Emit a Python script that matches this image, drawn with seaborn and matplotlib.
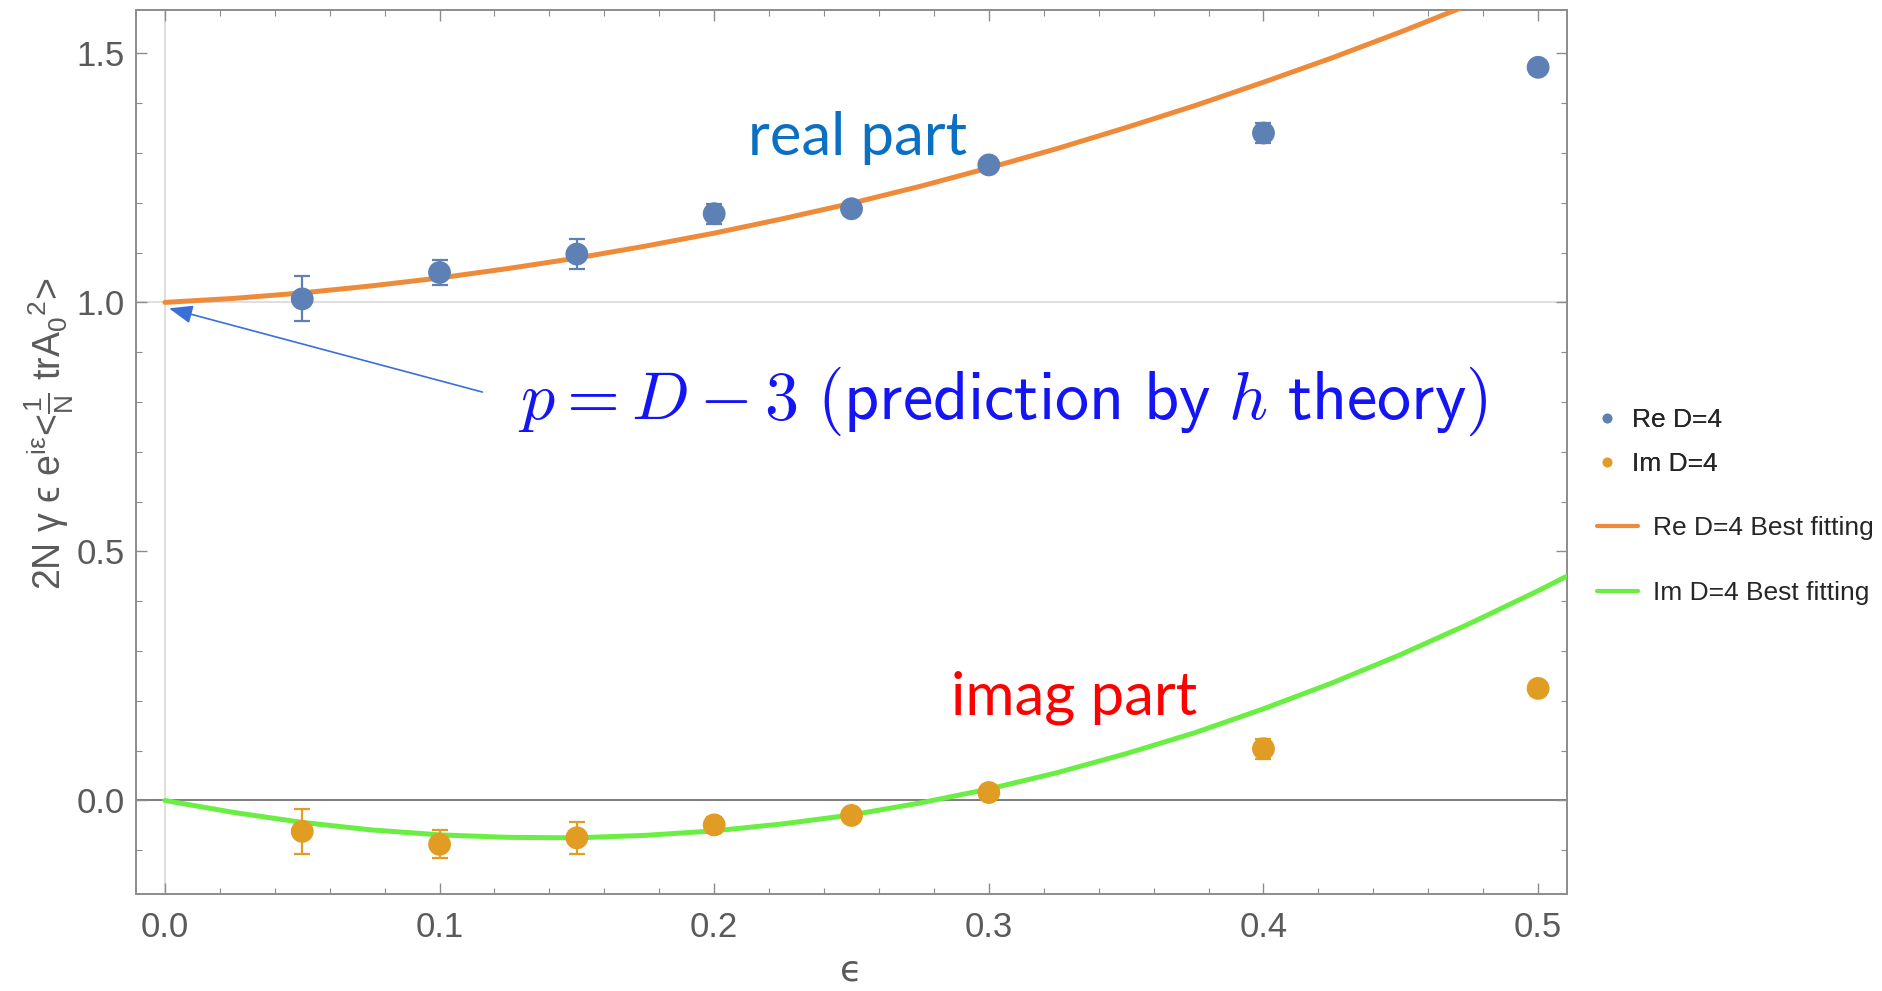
import numpy as np
import pandas as pd
import matplotlib
matplotlib.use("Agg")
import matplotlib.pyplot as plt
from matplotlib.ticker import MultipleLocator
from matplotlib.lines import Line2D
import seaborn as sns

# ---- data ----
eps = [0.05, 0.10, 0.15, 0.20, 0.25, 0.30, 0.40, 0.50]
re_vals = [1.007, 1.060, 1.097, 1.178, 1.188, 1.276, 1.340, 1.472]
re_err = [0.045, 0.025, 0.030, 0.020, 0.012, 0.010, 0.020, 0.012]
im_vals = [-0.062, -0.088, -0.075, -0.049, -0.030, 0.016, 0.104, 0.225]
im_err = [0.045, 0.028, 0.032, 0.016, 0.010, 0.010, 0.020, 0.015]

fit_eps = [0.000, 0.025, 0.050, 0.075, 0.100, 0.125, 0.150, 0.175, 0.200, 0.225,
           0.250, 0.275, 0.300, 0.325, 0.350, 0.375, 0.400, 0.425, 0.450, 0.475,
           0.500, 0.510]
re_fit = [1.000, 1.008, 1.019, 1.033, 1.049, 1.068, 1.089, 1.113, 1.139, 1.168,
          1.199, 1.233, 1.270, 1.309, 1.351, 1.395, 1.442, 1.491, 1.543, 1.598,
          1.655, 1.678]
im_fit = [0.000, -0.024, -0.044, -0.059, -0.069, -0.074, -0.075, -0.070, -0.061, -0.047,
          -0.029, -0.005, 0.023, 0.056, 0.094, 0.136, 0.184, 0.236, 0.293, 0.355,
          0.421, 0.449]

x_ticks = [0.0, 0.1, 0.2, 0.3, 0.4, 0.5]
y_ticks = [0.0, 0.5, 1.0, 1.5]

C_RE = "#5E81B5"
C_IM = "#E19C24"
C_REFIT = "#EE8B3A"
C_IMFIT = "#6AEE44"

sns.set_theme(style="white")
plt.rcParams["font.family"] = ["Liberation Sans", "DejaVu Sans"]
plt.rcParams["mathtext.fontset"] = "cm"

fig = plt.figure(figsize=(18.82, 9.91), dpi=100)
ax = fig.add_axes([0.0723, 0.098, 0.7603, 0.8919])

pts = pd.DataFrame({"eps": eps * 2, "val": re_vals + im_vals,
                    "series": ["Re D=4"] * len(eps) + ["Im D=4"] * len(eps)})
fits = pd.DataFrame({"eps": fit_eps * 2, "val": re_fit + im_fit,
                     "series": ["Re D=4 Best fitting"] * len(fit_eps) + ["Im D=4 Best fitting"] * len(fit_eps)})

# reference lines
ax.axhline(1.0, color="#d9d9d9", lw=1.2, zorder=0)
ax.axvline(0.0, color="#d9d9d9", lw=1.2, zorder=0)
ax.axhline(0.0, color="#666666", lw=1.2, zorder=0)

sns.lineplot(data=fits, x="eps", y="val", hue="series",
             palette={"Re D=4 Best fitting": C_REFIT, "Im D=4 Best fitting": C_IMFIT},
             lw=3.6, ax=ax, legend=False, zorder=3, estimator=None, sort=False)

ax.errorbar(eps, re_vals, yerr=re_err, fmt="none", ecolor=C_RE, elinewidth=1.6,
            capsize=6, capthick=1.6, zorder=4)
ax.errorbar(eps, im_vals, yerr=im_err, fmt="none", ecolor=C_IM, elinewidth=1.6,
            capsize=6, capthick=1.6, zorder=4)
sns.scatterplot(data=pts, x="eps", y="val", hue="series",
                palette={"Re D=4": C_RE, "Im D=4": C_IM},
                s=270, edgecolor="none", ax=ax, legend=False, zorder=5)

ax.set_xlim(-0.0105, 0.5105)
ax.set_ylim(-0.1875, 1.587)
ax.set_xticks(x_ticks)
ax.set_xticklabels([f"{v:.1f}" for v in x_ticks])
ax.set_yticks(y_ticks)
ax.set_yticklabels([f"{v:.1f}" for v in y_ticks])
ax.xaxis.set_minor_locator(MultipleLocator(0.02))
ax.yaxis.set_minor_locator(MultipleLocator(0.1))

for sp in ax.spines.values():
    sp.set_color("#8c8c8c")
    sp.set_linewidth(1.4)
ax.tick_params(which="both", direction="in", top=True, right=True,
               bottom=True, left=True, colors="#8c8c8c", labelcolor="#5a5a5a")
ax.tick_params(which="major", length=8, width=1.0, labelsize=25)
ax.tick_params(which="minor", length=4.5, width=0.8)
ax.tick_params(axis="x", which="major", pad=12)
ax.tick_params(axis="y", which="major", pad=8)

ax.set_xlabel("\u03f5", fontsize=26, color="#5a5a5a", va="center",
              family=["DejaVu Sans"])
ax.xaxis.set_label_coords(0.5, -0.087)
ax.set_ylabel("2N \u03b3 \u03f5 " + r"$\mathregular{e^{i\epsilon}}$<$\mathregular{\frac{1}{N}}$ trA$\mathregular{_0}$$\mathregular{^2}$>",
              fontsize=27, color="#5a5a5a", va="center",
              family=["Liberation Sans", "DejaVu Sans"])
ax.yaxis.set_label_coords(-0.061, 0.52)

# annotations
ax.text(0.252, 1.33, "real part", color="#0B70C2", fontsize=43,
        family=["Lato", "DejaVu Sans"], ha="center", va="center")
ax.text(0.331, 0.207, "imag part", color="#FF0000", fontsize=43,
        family=["Lato", "DejaVu Sans"], ha="center", va="center")
ax.annotate(r"$p=D-3$ $\mathsf{(prediction\ by}$ $h$ $\mathsf{theory)}$",
            xy=(0.0015, 0.988), xytext=(0.1285, 0.801),
            color="#1414F5", fontsize=49, ha="left", va="center",
            arrowprops=dict(arrowstyle="-|>,head_length=0.9,head_width=0.35",
                            color="#3A6FD8", lw=1.2, shrinkA=24, shrinkB=0,
                            mutation_scale=16, relpos=(0.0, 0.5)))

# legends
h_pts = [Line2D([], [], ls="none", marker="o", ms=7, color=C_RE, mec="none"),
         Line2D([], [], ls="none", marker="o", ms=7, color=C_IM, mec="none")]
leg1 = fig.legend(h_pts, ["Re D=4", "Im D=4"], loc="upper left",
                  bbox_to_anchor=(0.834, 0.612), frameon=False, fontsize=19,
                  handlelength=1.0, handletextpad=0.45, labelspacing=0.75)
h_lines = [Line2D([], [], color=C_REFIT, lw=3), Line2D([], [], color=C_IMFIT, lw=3)]
leg2 = fig.legend(h_lines, ["Re D=4 Best fitting", "Im D=4 Best fitting"], loc="upper left",
                  bbox_to_anchor=(0.836, 0.503), frameon=False, fontsize=19,
                  handlelength=1.55, handletextpad=0.55, labelspacing=1.55)
fig.add_artist(leg1)

fig.savefig("out.png", dpi=100)
